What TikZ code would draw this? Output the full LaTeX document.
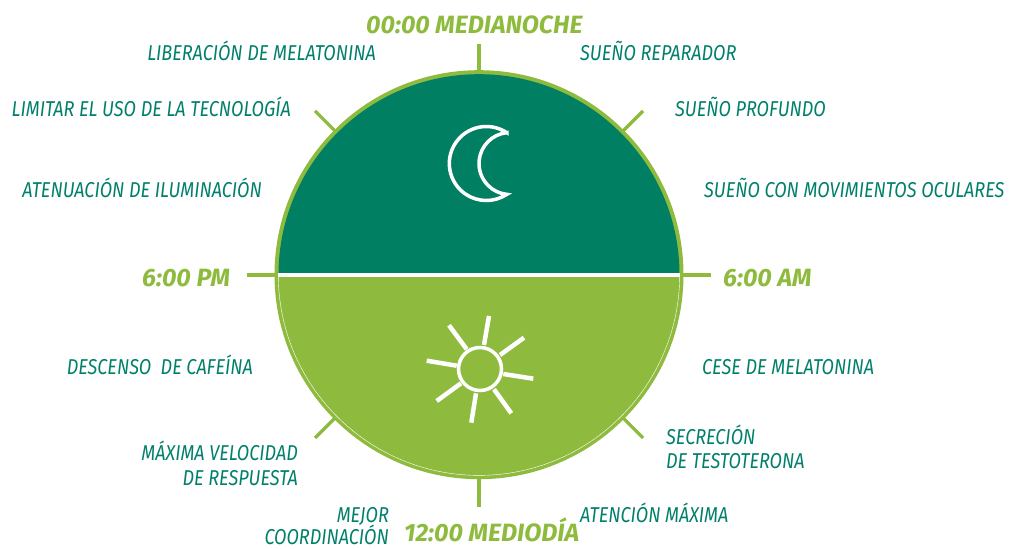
\documentclass[tikz,border=0pt]{standalone}
\usepackage{fontspec}
\newfontfamily\lblfont{Fira Sans}[UprightFont=* Italic,FakeStretch=0.84]
\newfontfamily\hdfont{Fira Sans}[UprightFont=* Bold Italic,FakeStretch=1.00]
\definecolor{night}{HTML}{007F63}
\definecolor{lime}{HTML}{8EBB3E}
\definecolor{lbltxt}{HTML}{00806A}
\tikzset{
  x=1bp,y=1bp,
  lbl/.style={font=\lblfont\fontsize{21.5bp}{24bp}\selectfont,text=lbltxt,inner sep=0pt},
  hd/.style={font=\hdfont\fontsize{25bp}{28bp}\selectfont,text=lime,inner sep=0pt},
  tick/.style={draw=lime,line width=3.2bp},
  icon/.style={draw=white,line width=3.5bp,line join=miter},
  ray/.style={draw=white,line width=4.5bp}
}
\begin{document}
\begin{tikzpicture}
\useasboundingbox (0,0) rectangle (1016,549);
% y values are 549 minus the image row
\coordinate (c) at (479,274.3);
% ticks
\draw[tick] (479,505) -- (479,475);
\draw[tick] (479,74) -- (479,42);
\draw[tick] (247,274) -- (280,274);
\draw[tick] (678,274) -- (711,274);
\draw[tick] (315,438) -- (340,413);
\draw[tick] (643,438) -- (618,413);
\draw[tick] (315,111) -- (340,136);
\draw[tick] (643,111) -- (618,136);
% disc
\fill[lime] (c) circle (204.5);
\fill[night] (c) ++(200.5,0) arc (0:180:200.5) -- cycle;
\draw[white,line width=0.4bp] (c) ++(-200.7,0) arc (180:360:200.7);
\fill[white] (278,272.4) rectangle (680,276.2);
% moon
\draw[icon] (506.8,416.3) arc (56.4:303.6:37) arc (264.07:95.93:31) -- cycle;
% sun
\draw[white,line width=3.5bp] (480,180) circle (21.5);
\draw[ray] (484,204) -- (489,233);
\draw[ray] (500,194) -- (524,211.3);
\draw[ray] (503.3,175) -- (533.3,170.3);
\draw[ray] (494,159.7) -- (511.3,135.7);
\draw[ray] (476,155.7) -- (471.3,126.3);
\draw[ray] (461,165.7) -- (436.7,148);
\draw[ray] (456.7,183.3) -- (426.7,188.3);
\draw[ray] (466.7,199.7) -- (449,223.7);
% headings
\node[hd,anchor=base west] (h1) at (366,515) {00:00 MEDIANOCHE};
\node[hd,anchor=base west] (h2) at (404,7) {12:00 MEDIODÍA};
\node[hd,anchor=base west] (h3) at (142,262) {6:00 PM};
\node[hd,anchor=base west] (h4) at (723,262) {6:00 AM};
% labels
\node[lbl,anchor=base east] (a1) at (376,488) {LIBERACIÓN DE MELATONINA};
\node[lbl,anchor=base west] (a2) at (580,488) {SUEÑO REPARADOR};
\node[lbl,anchor=base west] (a3) at (675,432) {SUEÑO PROFUNDO};
\node[lbl,anchor=base west] (a4) at (704,351) {SUEÑO CON MOVIMIENTOS OCULARES};
\node[lbl,anchor=base east] (a5) at (291,432) {LIMITAR EL USO DE LA TECNOLOGÍA};
\node[lbl,anchor=base east] (a6) at (262,351) {ATENUACIÓN DE ILUMINACIÓN};
\node[lbl,anchor=base east] (a7) at (253,174) {DESCENSO\ \ DE CAFEÍNA};
\node[lbl,anchor=base west] (a8) at (702,174) {CESE DE MELATONINA};
\node[lbl,anchor=base east] (a9) at (298,88) {MÁXIMA VELOCIDAD};
\node[lbl,anchor=base east] (a10) at (298,63) {DE RESPUESTA};
\node[lbl,anchor=base west] (a11) at (666,104) {SECRECIÓN};
\node[lbl,anchor=base west] (a12) at (666,80) {DE TESTOTERONA};
\node[lbl,anchor=base east] (a13) at (389,26) {MEJOR};
\node[lbl,anchor=base east] (a14) at (389,4) {COORDINACIÓN};
\node[lbl,anchor=base west] (a15) at (580,26) {ATENCIÓN MÁXIMA};
\end{tikzpicture}
\end{document}
